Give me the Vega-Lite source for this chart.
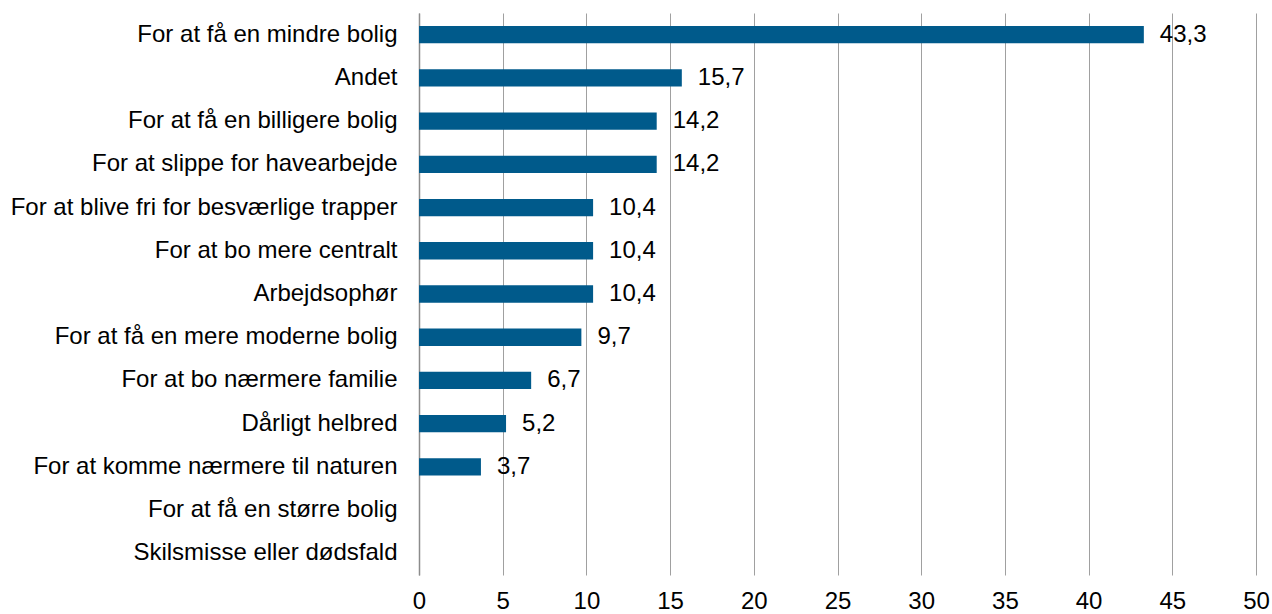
{
  "$schema": "https://vega.github.io/schema/vega-lite/v6.json",
  "autosize": "none",
  "width": 837,
  "height": 562,
  "padding": {"left": 419, "top": 13, "right": 16, "bottom": 39},
  "background": "white",
  "config": {
    "view": {"stroke": null},
    "font": "Liberation Sans",
    "locale": {"number": {"decimal": ",", "thousands": ".", "grouping": [3], "currency": ["", " kr."]}}
  },
  "data": {
    "values": [
      {"reason": "For at få en mindre bolig", "value": 43.3},
      {"reason": "Andet", "value": 15.7},
      {"reason": "For at få en billigere bolig", "value": 14.2},
      {"reason": "For at slippe for havearbejde", "value": 14.2},
      {"reason": "For at blive fri for besværlige trapper", "value": 10.4},
      {"reason": "For at bo mere centralt", "value": 10.4},
      {"reason": "Arbejdsophør", "value": 10.4},
      {"reason": "For at få en mere moderne bolig", "value": 9.7},
      {"reason": "For at bo nærmere familie", "value": 6.7},
      {"reason": "Dårligt helbred", "value": 5.2},
      {"reason": "For at komme nærmere til naturen", "value": 3.7},
      {"reason": "For at få en større bolig", "value": 0},
      {"reason": "Skilsmisse eller dødsfald", "value": 0}
    ]
  },
  "encoding": {
    "y": {
      "field": "reason",
      "type": "nominal",
      "sort": null,
      "scale": {"paddingInner": 0.6, "paddingOuter": 0.3},
      "axis": {
        "title": null,
        "ticks": false,
        "labelFontSize": 24,
        "labelColor": "#000000",
        "labelPadding": 22,
        "labelLimit": 420,
        "domainColor": "#8c8c8c",
        "domainWidth": 1.5,
        "grid": false
      }
    },
    "x": {
      "field": "value",
      "type": "quantitative",
      "scale": {"domain": [0, 50], "nice": false},
      "axis": {
        "title": null,
        "values": [0, 5, 10, 15, 20, 25, 30, 35, 40, 45, 50],
        "format": "d",
        "ticks": false,
        "domain": false,
        "grid": true,
        "gridColor": "#a0a0a0",
        "gridWidth": 1,
        "labelFontSize": 24,
        "labelColor": "#000000",
        "labelPadding": 14,
        "labelFlush": false
      }
    }
  },
  "layer": [
    {"mark": {"type": "bar", "color": "#005a8b"}},
    {
      "transform": [{"filter": "datum.value > 0"}],
      "mark": {"type": "text", "align": "left", "baseline": "middle", "dx": 16, "fontSize": 24, "color": "#000000"},
      "encoding": {"text": {"field": "value", "type": "quantitative", "format": ".1f"}}
    }
  ]
}
